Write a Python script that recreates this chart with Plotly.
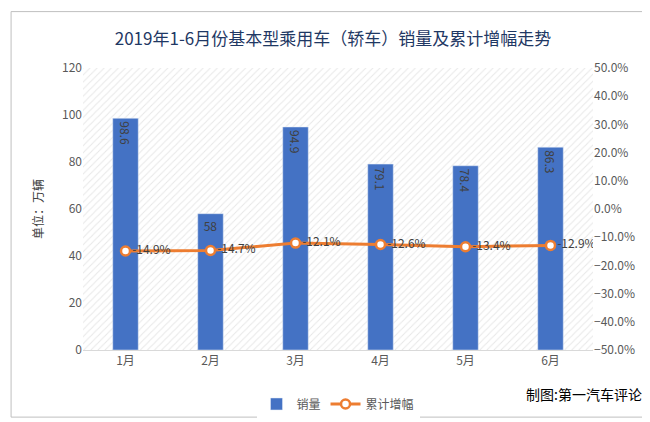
import plotly.graph_objects as go

months = ['1月', '2月', '3月', '4月', '5月', '6月']
sales = [98.6, 58, 94.9, 79.1, 78.4, 86.3]
growth = [-14.9, -14.7, -12.1, -12.6, -13.4, -12.9]

xs = list(range(len(months)))
blue = '#4472C4'
orange = '#ED7D31'
font = 'Noto Sans CJK SC'

fig = go.Figure()
# hatched plot background on the base axes
fig.add_trace(go.Bar(x=[2.5], y=[120], width=6, hoverinfo='skip', showlegend=False,
                     marker=dict(color='white', line_width=0,
                     pattern=dict(shape='/', fgcolor='#d0d0d0', bgcolor='white', size=5, solidity=0.2))))
fig.add_trace(go.Bar(x=xs, y=sales, name='销量', xaxis='x2', marker_color=blue, width=0.3,
                     text=[f'{v:g}' for v in sales], textposition='inside',
                     insidetextanchor='end', textfont=dict(color='#404040', size=12)))
fig.add_trace(go.Scatter(x=xs, y=growth, name='累计增幅', xaxis='x2', yaxis='y2',
                         mode='lines+markers+text', line=dict(color=orange, width=3),
                         marker=dict(size=9, color='white', line=dict(color=orange, width=2.5)),
                         text=[f'{v}%' for v in growth], textposition='middle right',
                         textfont=dict(color='#404040', size=12)))

fig.update_layout(
    width=650, height=422, paper_bgcolor='white', plot_bgcolor='white',
    font=dict(family=font, color='#595959', size=12),
    title=dict(text='2019年1-6月份基本型乘用车（轿车）销量及累计增幅走势', x=0.5, y=0.94,
               xanchor='center', font=dict(size=17, color='#1f3864')),
    margin=dict(l=75, r=65, t=60, b=72),
    xaxis=dict(tickvals=xs, ticktext=months, range=[-0.5, 5.5], showgrid=False,
               minor=dict(tick0=0.5, dtick=1, showgrid=True, gridcolor='#d9d9d9'),
               zeroline=False, showline=True, linecolor='#d9d9d9'),
    xaxis2=dict(overlaying='x', range=[-0.5, 5.5], visible=False),
    yaxis=dict(range=[0, 120], dtick=20, gridcolor='#d9d9d9', zeroline=False, layer='above traces',
               title=dict(text='单位：万辆', font=dict(size=12, color='#404040'))),
    yaxis2=dict(overlaying='y', side='right', range=[-50, 50], dtick=10, ticksuffix='%',
                tickformat='.1f', showgrid=False, zeroline=False),
    legend=dict(orientation='h', x=0.5, xanchor='center', y=-0.14, font=dict(size=12)),
    annotations=[dict(text='制图:第一汽车评论', xref='paper', yref='paper', x=1.1, y=-0.2,
                      xanchor='right', showarrow=False, font=dict(size=14, color='#000'))],
    shapes=[dict(type='rect', xref='paper', yref='paper', x0=-0.141, x1=1.122, y0=-0.238, y1=1.2,
                 line=dict(color='#bfbfbf', width=1))],
)
fig.write_html('out.html')
